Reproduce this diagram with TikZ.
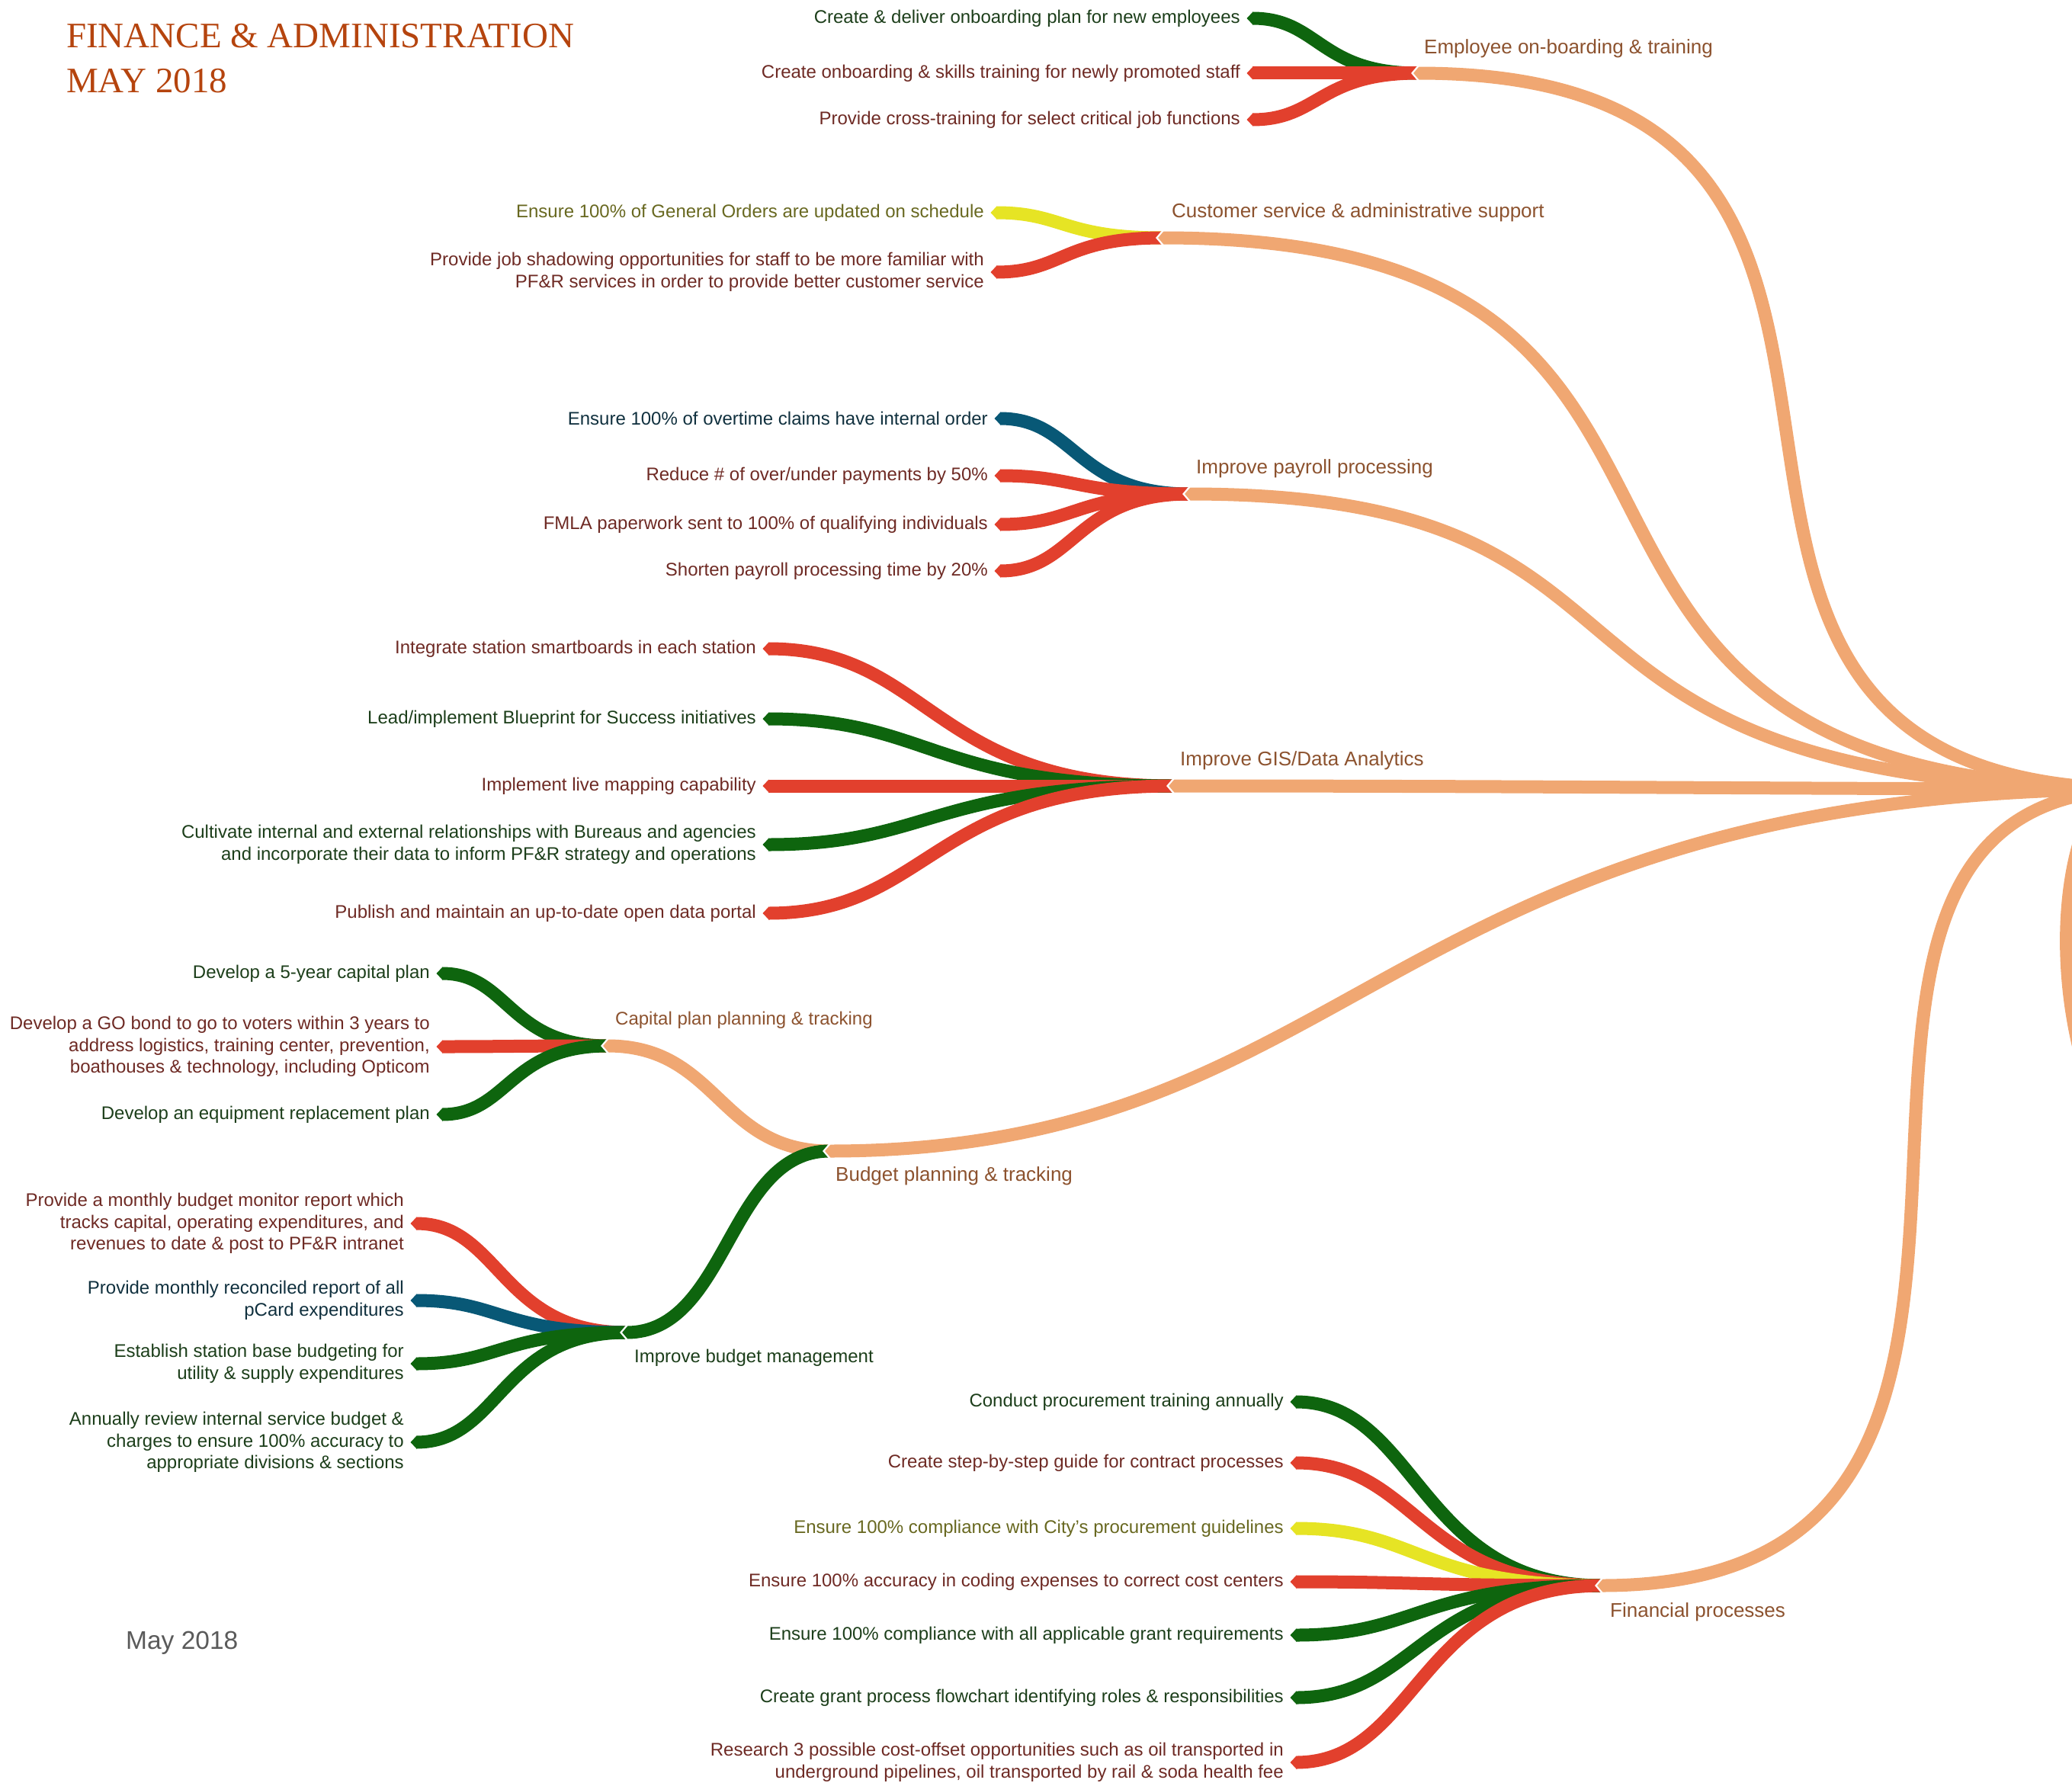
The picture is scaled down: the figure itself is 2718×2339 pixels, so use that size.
\documentclass[tikz,border=0pt]{standalone}
\usepackage{fontspec}
\setmainfont{Liberation Sans}
\newfontfamily\titlefont{Liberation Serif}
\usetikzlibrary{calc}
\definecolor{cOr}{RGB}{240,167,114}
\definecolor{cRd}{RGB}{226,64,45}
\definecolor{cGn}{RGB}{14,101,14}
\definecolor{cBl}{RGB}{8,88,118}
\definecolor{cYe}{RGB}{230,228,36}
\definecolor{tOr}{RGB}{140,82,46}
\definecolor{tRd}{RGB}{110,42,36}
\definecolor{tGn}{RGB}{28,62,26}
\definecolor{tBl}{RGB}{16,48,62}
\definecolor{tYe}{RGB}{104,104,32}
\definecolor{cTitle}{RGB}{181,68,14}
\definecolor{cGray}{RGB}{90,90,90}
\tikzset{
  band/.style={line width=17pt, line cap=butt},
  leaf/.style={font=\fontsize{24}{28.5}\selectfont, align=right, anchor=east, inner sep=0pt},
  lblone/.style={font=\fontsize{26}{30}\selectfont, anchor=west, inner sep=0pt, text=tOr},
  lbltwo/.style={font=\fontsize{24}{28}\selectfont, anchor=west, inner sep=0pt},
}
% leaf link: colour, leaf coordinate, parent coordinate, control offsets k1 (leaf side), k2 (parent side)
\newcommand\leaflink[5]{%
  \draw[band,#1] (#2) .. controls ($(#2)+(#4,0)$) and ($(#3)+(-#5,0)$) .. (#3);
  \fill[#1] ($(#2)+(0.5,-8.5)$) -- ($(#2)+(-7.5,0)$) -- ($(#2)+(0.5,8.5)$) -- cycle;
}
% inner link: colour, child, parent, k1, k2 (with white-edged chevron at the child)
\newcommand\uplink[5]{%
  \draw[band,#1] (#2) .. controls ($(#2)+(#4,0)$) and ($(#3)+(-#5,0)$) .. (#3);
  \fill[#1] ($(#2)+(0.5,-8.5)$) -- ($(#2)+(-7.5,0)$) -- ($(#2)+(0.5,8.5)$) -- cycle;
  \draw[white,line width=2.2pt] ($(#2)+(1,-10)$) -- ($(#2)+(-7.5,0)$) -- ($(#2)+(1,10)$);
}
\begin{document}
\begin{tikzpicture}[x=1pt,y=-1pt]
\useasboundingbox (0,0) rectangle (2718,2339);
\clip (0,0) rectangle (2718,2339);

% ---- coordinates of ports ----
\coordinate (R) at (2811,1035);
\coordinate (E) at (1860,96);
\coordinate (C) at (1525,312);
\coordinate (P) at (1560,648);
\coordinate (G) at (1539,1031);
\coordinate (B) at (1088,1510);
\coordinate (F) at (2101,2080);
\coordinate (K) at (797,1372);
\coordinate (M) at (822,1748);

\coordinate (e1) at (1643,24);
\coordinate (e2) at (1643,96);
\coordinate (e3) at (1643,157);
\coordinate (c1) at (1307,279);
\coordinate (c2) at (1307,357);
\coordinate (p1) at (1312,549);
\coordinate (p2) at (1312,624);
\coordinate (p3) at (1312,688);
\coordinate (p4) at (1312,749);
\coordinate (g1) at (1008,851);
\coordinate (g2) at (1008,943);
\coordinate (g3) at (1008,1031);
\coordinate (g4) at (1008,1108);
\coordinate (g5) at (1008,1198);
\coordinate (k1) at (580,1277);
\coordinate (k2) at (580,1373);
\coordinate (k3) at (580,1462);
\coordinate (m1) at (546,1605);
\coordinate (m2) at (546,1706);
\coordinate (m3) at (546,1789);
\coordinate (m4) at (546,1892);
\coordinate (f1) at (1700,1839);
\coordinate (f2) at (1700,1919);
\coordinate (f3) at (1700,2005);
\coordinate (f4) at (1700,2075);
\coordinate (f5) at (1700,2145);
\coordinate (f6) at (1700,2227);
\coordinate (f7) at (1700,2312);
\coordinate (s1) at (2745,1060);
\coordinate (s2) at (2740,1420);

% ---- partial band at right edge ----
\draw[band,cOr] (s1) .. controls (2700,1150) and (2700,1300) .. (s2);

% ---- Employee on-boarding ----
\leaflink{cGn}{e1}{E}{87}{130}
\leaflink{cRd}{e2}{E}{87}{130}
\leaflink{cRd}{e3}{E}{87}{130}
\uplink{cOr}{E}{R}{820}{800}

% ---- Customer service ----
\leaflink{cYe}{c1}{C}{87}{131}
\leaflink{cRd}{c2}{C}{87}{131}
\uplink{cOr}{C}{R}{880}{950}

% ---- Payroll ----
\leaflink{cBl}{p1}{P}{99}{149}
\leaflink{cRd}{p2}{P}{99}{149}
\leaflink{cRd}{p3}{P}{99}{149}
\leaflink{cRd}{p4}{P}{99}{149}
\uplink{cOr}{P}{R}{690}{880}

% ---- GIS ----
\leaflink{cRd}{g1}{G}{212}{319}
\leaflink{cGn}{g2}{G}{212}{319}
\leaflink{cRd}{g3}{G}{212}{319}
\leaflink{cGn}{g4}{G}{212}{319}
\leaflink{cRd}{g5}{G}{212}{319}
\uplink{cOr}{G}{R}{500}{500}

% ---- Budget planning ----
\leaflink{cGn}{k1}{K}{87}{130}
\leaflink{cRd}{k2}{K}{87}{130}
\leaflink{cGn}{k3}{K}{87}{130}
\uplink{cOr}{K}{B}{145}{145}
\leaflink{cRd}{m1}{M}{110}{166}
\leaflink{cBl}{m2}{M}{110}{166}
\leaflink{cGn}{m3}{M}{110}{166}
\leaflink{cGn}{m4}{M}{110}{166}
\uplink{cGn}{M}{B}{133}{133}
\uplink{cOr}{B}{R}{700}{1000}

% ---- Financial processes ----
\leaflink{cGn}{f1}{F}{160}{241}
\leaflink{cRd}{f2}{F}{160}{241}
\leaflink{cYe}{f3}{F}{160}{241}
\leaflink{cRd}{f4}{F}{160}{241}
\leaflink{cGn}{f5}{F}{160}{241}
\leaflink{cGn}{f6}{F}{160}{241}
\leaflink{cRd}{f7}{F}{160}{241}
\uplink{cOr}{F}{R}{730}{590}

% ---- title ----
\node[anchor=base west, inner sep=0pt, text=cTitle, font=\titlefont\fontsize{47}{56}\selectfont] (t1) at (87,63) {FINANCE \& ADMINISTRATION};
\node[anchor=base west, inner sep=0pt, text=cTitle, font=\titlefont\fontsize{47}{56}\selectfont] (t2) at (87,122) {MAY 2018};
\node[anchor=base west, inner sep=0pt, text=cGray, font=\fontsize{33.5}{40}\selectfont] (date) at (165,2163) {May 2018};

% ---- branch labels ----
\node[lblone] (lE) at (1868,64) {Employee on-boarding \& training};
\node[lblone] (lC) at (1537,279) {Customer service \& administrative support};
\node[lblone] (lP) at (1569,615) {Improve payroll processing};
\node[lblone] (lG) at (1548,998) {Improve GIS/Data Analytics};
\node[lblone] (lB) at (1096,1543) {Budget planning \& tracking};
\node[lblone] (lF) at (2112,2115) {Financial processes};
\node[lbltwo,text=tOr] (lK) at (807,1338) {Capital plan planning \& tracking};
\node[lbltwo,text=tGn] (lM) at (832,1781) {Improve budget management};

% ---- leaf labels ----
\node[leaf,text=tGn] (te1) at ($(e1)+(-16,0)$) {Create \& deliver onboarding plan for new employees};
\node[leaf,text=tRd] (te2) at ($(e2)+(-16,0)$) {Create onboarding \& skills training for newly promoted staff};
\node[leaf,text=tRd] (te3) at ($(e3)+(-16,0)$) {Provide cross-training for select critical job functions};

\node[leaf,text=tYe] (tc1) at ($(c1)+(-16,0)$) {Ensure 100\% of General Orders are updated on schedule};
\node[leaf,text=tRd] (tc2) at ($(c2)+(-16,0)$) {Provide job shadowing opportunities for staff to be more familiar with\\PF\&R services in order to provide better customer service};

\node[leaf,text=tBl] (tp1) at ($(p1)+(-16,0)$) {Ensure 100\% of overtime claims have internal order};
\node[leaf,text=tRd] (tp2) at ($(p2)+(-16,0)$) {Reduce \# of over/under payments by 50\%};
\node[leaf,text=tRd] (tp3) at ($(p3)+(-16,0)$) {FMLA paperwork sent to 100\% of qualifying individuals};
\node[leaf,text=tRd] (tp4) at ($(p4)+(-16,0)$) {Shorten payroll processing time by 20\%};

\node[leaf,text=tRd] (tg1) at ($(g1)+(-16,0)$) {Integrate station smartboards in each station};
\node[leaf,text=tGn] (tg2) at ($(g2)+(-16,0)$) {Lead/implement Blueprint for Success initiatives};
\node[leaf,text=tRd] (tg3) at ($(g3)+(-16,0)$) {Implement live mapping capability};
\node[leaf,text=tGn] (tg4) at ($(g4)+(-16,0)$) {Cultivate internal and external relationships with Bureaus and agencies\\and incorporate their data to inform PF\&R strategy and operations};
\node[leaf,text=tRd] (tg5) at ($(g5)+(-16,0)$) {Publish and maintain an up-to-date open data portal};

\node[leaf,text=tGn] (tk1) at ($(k1)+(-16,0)$) {Develop a 5-year capital plan};
\node[leaf,text=tRd] (tk2) at ($(k2)+(-16,0)$) {Develop a GO bond to go to voters within 3 years to\\address logistics, training center, prevention,\\boathouses \& technology, including Opticom};
\node[leaf,text=tGn] (tk3) at ($(k3)+(-16,0)$) {Develop an equipment replacement plan};

\node[leaf,text=tRd] (tm1) at ($(m1)+(-16,0)$) {Provide a monthly budget monitor report which\\tracks capital, operating expenditures, and\\revenues to date \& post to PF\&R intranet};
\node[leaf,text=tBl] (tm2) at ($(m2)+(-16,0)$) {Provide monthly reconciled report of all\\pCard expenditures};
\node[leaf,text=tGn] (tm3) at ($(m3)+(-16,0)$) {Establish station base budgeting for\\utility \& supply expenditures};
\node[leaf,text=tGn] (tm4) at ($(m4)+(-16,0)$) {Annually review internal service budget \&\\charges to ensure 100\% accuracy to\\appropriate divisions \& sections};

\node[leaf,text=tGn] (tf1) at ($(f1)+(-16,0)$) {Conduct procurement training annually};
\node[leaf,text=tRd] (tf2) at ($(f2)+(-16,0)$) {Create step-by-step guide for contract processes};
\node[leaf,text=tYe] (tf3) at ($(f3)+(-16,0)$) {Ensure 100\% compliance with City's procurement guidelines};
\node[leaf,text=tRd] (tf4) at ($(f4)+(-16,0)$) {Ensure 100\% accuracy in coding expenses to correct cost centers};
\node[leaf,text=tGn] (tf5) at ($(f5)+(-16,0)$) {Ensure 100\% compliance with all applicable grant requirements};
\node[leaf,text=tGn] (tf6) at ($(f6)+(-16,0)$) {Create grant process flowchart identifying roles \& responsibilities};
\node[leaf,text=tRd] (tf7) at ($(f7)+(-16,0)$) {Research 3 possible cost-offset opportunities such as oil transported in\\underground pipelines, oil transported by rail \& soda health fee};
\end{tikzpicture}
\end{document}
